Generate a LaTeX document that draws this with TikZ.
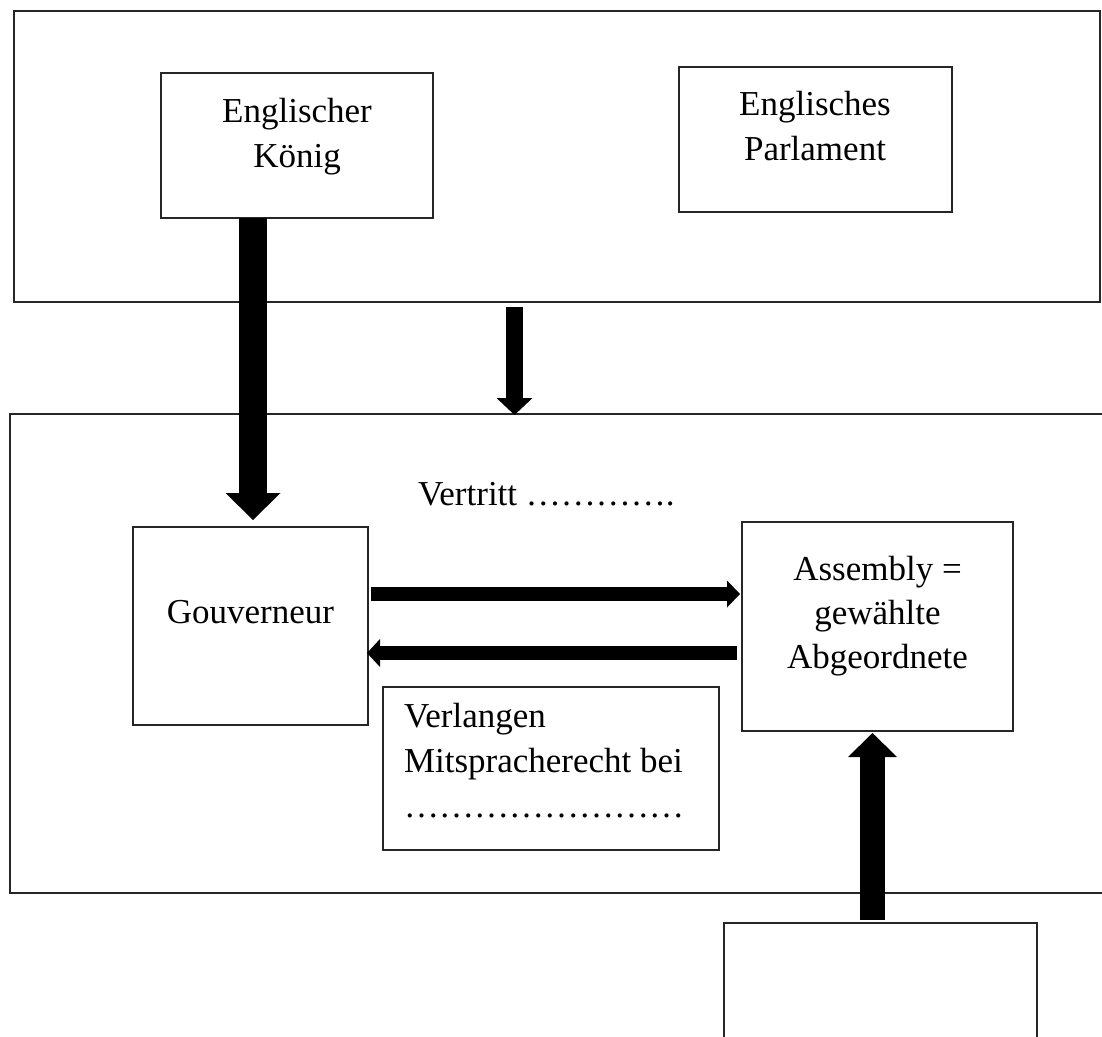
\documentclass[tikz,border=0pt]{standalone}
\usepackage{fontspec}
\setmainfont{Liberation Serif}
\usetikzlibrary{arrows.meta}
\begin{document}
\begin{tikzpicture}[x=1pt,y=-1pt,
  box/.style={draw=black!85, line width=1.5pt, inner sep=0pt, outer sep=0pt, anchor=north west},
  lbl/.style={inner sep=0pt, outer sep=0pt, font=\fontsize{35}{45}\selectfont},
  conn/.style n args={4}{line width=#1, -{Triangle[width=#2,length=#3,line width=0pt]}, fill=black, draw=black}]
\useasboundingbox (0,0) rectangle (1102,1036);
\begin{scope}
\clip (0,0) rectangle (1102,1036);
% boxes
\node[box, minimum width=1086pt, minimum height=291pt] (top) at (14,11) {};
\node[box, minimum width=272pt, minimum height=145pt] (koenig) at (161,73) {};
\node[box, minimum width=273pt, minimum height=145pt] (parl) at (679,67) {};
\node[box, minimum width=1100pt, minimum height=479pt] (lower) at (10,414) {};
\node[box, minimum width=235pt, minimum height=198pt] (gov) at (133,527) {};
\node[box, minimum width=271pt, minimum height=209pt] (assembly) at (742,522) {};
\node[box, minimum width=336pt, minimum height=163pt] (verl) at (383,687) {};
\node[box, minimum width=313pt, minimum height=150pt] (bottom) at (724,923) {};
% labels
\node[lbl, align=center, anchor=north] (tkoenig) at (297,90.5) {\strut Englischer\\\strut König};
\node[lbl, align=center, anchor=north] (tparl) at (815,83.5) {\strut Englisches\\\strut Parlament};
\node[lbl, anchor=base] (tgov) at (250.5,623) {Gouverneur};
\node[lbl, anchor=base west] (tvert) at (418,505) {Vertritt ………….};
\node[lbl, font=\fontsize{35}{44}\selectfont, align=center, anchor=north] (tass) at (877.5,549.2) {\strut Assembly =\\\strut gewählte\\\strut Abgeordnete};
\node[lbl, align=left, anchor=north west] (tverl) at (404,695.5) {\strut Verlangen\\\strut Mitspracherecht bei\\\strut ……………………};
% connectors
\draw[conn={28pt}{55pt}{27pt}, shorten >=7pt] (253,0 |- koenig.south) -- (253,0 |- gov.north);
\draw[conn={17pt}{36pt}{17pt}, shorten <=5pt, shorten >=-1pt] (514.5,0 |- top.south) -- (514.5,0 |- lower.north);
\draw[conn={14pt}{27pt}{13pt}, shorten <=3pt, shorten >=2pt] (gov.east |- 0,594) -- (assembly.west |- 0,594);
\draw[conn={14pt}{28pt}{13pt}, shorten <=5pt, shorten >=-1pt] (assembly.west |- 0,653) -- (gov.east |- 0,653);
\draw[conn={25pt}{49pt}{24pt}, shorten <=3pt, shorten >=2pt] (872.5,0 |- bottom.north) -- (872.5,0 |- assembly.south);
\end{scope}
\end{tikzpicture}
\end{document}
